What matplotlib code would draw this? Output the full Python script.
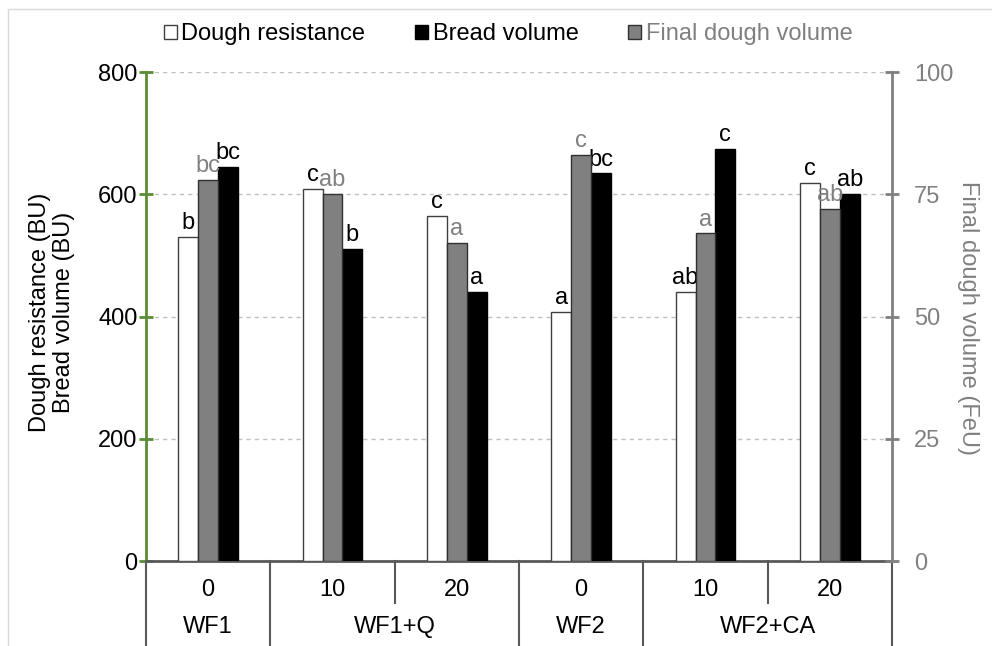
import numpy as np
import matplotlib
matplotlib.use("Agg")
import matplotlib.pyplot as plt
from matplotlib.patches import Rectangle, Patch
from matplotlib import transforms

plt.rcParams['font.family'] = ['Liberation Sans', 'DejaVu Sans']

# данные
flours = ["WF1", "WF1+Q", "WF2", "WF2+CA"]
flour_span = [1, 2, 1, 2]
levels = ["0", "10", "20", "0", "10", "20"]

dough_resistance = [530, 609, 564, 408, 440, 619]   # BU, левая ось
bread_volume = [645, 510, 440, 634, 674, 600]       # BU, левая ось
final_dough_volume = [78, 75, 65, 83, 67, 72]       # FeU, правая ось

letters_dr = ["b", "c", "c", "a", "ab", "c"]
letters_fdv = ["bc", "ab", "a", "c", "a", "ab"]
letters_bv = ["bc", "b", "a", "bc", "c", "ab"]

GREEN = "#5b8c36"
GRAY = "#808080"
AXGRAY = "#595959"
FS = 17

fig = plt.figure(figsize=(9.92, 6.46), dpi=100)
ax = fig.add_axes([146 / 992, 1 - 561 / 646, 746 / 992, 489 / 646])
ax2 = ax.twinx()

x = np.arange(len(levels))
w = 0.16

b1 = ax.bar(x - w, dough_resistance, w, color="white", edgecolor="#404040", linewidth=1, zorder=3)
b3 = ax.bar(x + w, bread_volume, w, color="black", edgecolor="black", linewidth=1, zorder=3)
b2 = ax2.bar(x, final_dough_volume, w, color=GRAY, edgecolor="#303030", linewidth=1, zorder=3)

# буквы над столбцами
for i in range(len(x)):
    ax.annotate(letters_dr[i], (x[i] - w, dough_resistance[i]), xytext=(0, 2),
                textcoords="offset points", ha="center", va="bottom", fontsize=FS, color="black")
    ax.annotate(letters_bv[i], (x[i] + w, bread_volume[i]), xytext=(0, 2),
                textcoords="offset points", ha="center", va="bottom", fontsize=FS, color="black")
    ax2.annotate(letters_fdv[i], (x[i], final_dough_volume[i]), xytext=(0, 2),
                 textcoords="offset points", ha="center", va="bottom", fontsize=FS, color=GRAY)

ax.set_xlim(-0.5, len(levels) - 0.5)
ax.set_ylim(0, 800)
ax2.set_ylim(0, 100)
ax.set_yticks([0, 200, 400, 600, 800])
ax2.set_yticks([0, 25, 50, 75, 100])
ax.set_xticks([])

ax.yaxis.grid(True, color="#c0c0c0", linestyle=(0, (3, 3)), linewidth=1)
ax.set_axisbelow(True)

for s in ["top", "right"]:
    ax.spines[s].set_visible(False)
for s in ["top", "left", "bottom"]:
    ax2.spines[s].set_visible(False)
ax.spines["left"].set_color(GREEN)
ax.spines["left"].set_linewidth(2)
ax.spines["bottom"].set_color(AXGRAY)
ax.spines["bottom"].set_linewidth(2)
ax2.spines["right"].set_color(GRAY)
ax2.spines["right"].set_linewidth(2)

ax.tick_params(axis="y", direction="inout", length=10, width=2, color=GREEN, labelsize=FS, pad=1)
ax2.tick_params(axis="y", direction="inout", length=10, width=2, color=GRAY, labelsize=FS,
                labelcolor=GRAY, pad=11)

# подписи осей
fig.text(52 / 992, 1 - 312 / 646, "Dough resistance (BU)\nBread volume (BU)", rotation=90,
         ha="center", va="center", multialignment="center", fontsize=FS, linespacing=1.1)
fig.text(968 / 992, 1 - 318 / 646, "Final dough volume (FeU)", rotation=-90,
         ha="center", va="center", fontsize=FS, color=GRAY)

# таблица категорий под осью
trans = transforms.blended_transform_factory(ax.transData, fig.transFigure)
y0 = 1 - 561 / 646
y_short = 1 - 603 / 646
edges = [-0.5]
for s in flour_span:
    edges.append(edges[-1] + s)
for e in edges:
    ax.plot([e, e], [y0, -0.02], transform=trans, color=AXGRAY, linewidth=1.5, clip_on=False)
for e in np.arange(-0.5, len(levels) + 0.5):
    if e not in edges:
        ax.plot([e, e], [y0, y_short], transform=trans, color=AXGRAY, linewidth=1.5, clip_on=False)
for i, lab in enumerate(levels):
    ax.text(x[i], 1 - 590 / 646, lab, transform=trans, ha="center", va="center", fontsize=FS)
for j, lab in enumerate(flours):
    ax.text((edges[j] + edges[j + 1]) / 2, 1 - 627 / 646, lab, transform=trans,
            ha="center", va="center", fontsize=FS)

# легенда
handles = [Patch(facecolor="white", edgecolor="#404040"),
           Patch(facecolor="black", edgecolor="black"),
           Patch(facecolor=GRAY, edgecolor="#303030")]
leg = fig.legend(handles, ["Dough resistance", "Bread volume", "Final dough volume"],
                 loc="center", bbox_to_anchor=(508 / 992, 1 - 34 / 646), ncol=3, frameon=False,
                 fontsize=FS, handlelength=0.55, handleheight=0.55, handletextpad=0.2,
                 columnspacing=2.1)
leg.get_texts()[2].set_color(GRAY)

# рамка области диаграммы
fig.patches.append(Rectangle((7.5 / 992, -0.1), 1.2, 1 - 9 / 646 + 0.1, transform=fig.transFigure,
                             fill=False, edgecolor="#d9d9d9", linewidth=1))

fig.savefig("out.png", dpi=100)
